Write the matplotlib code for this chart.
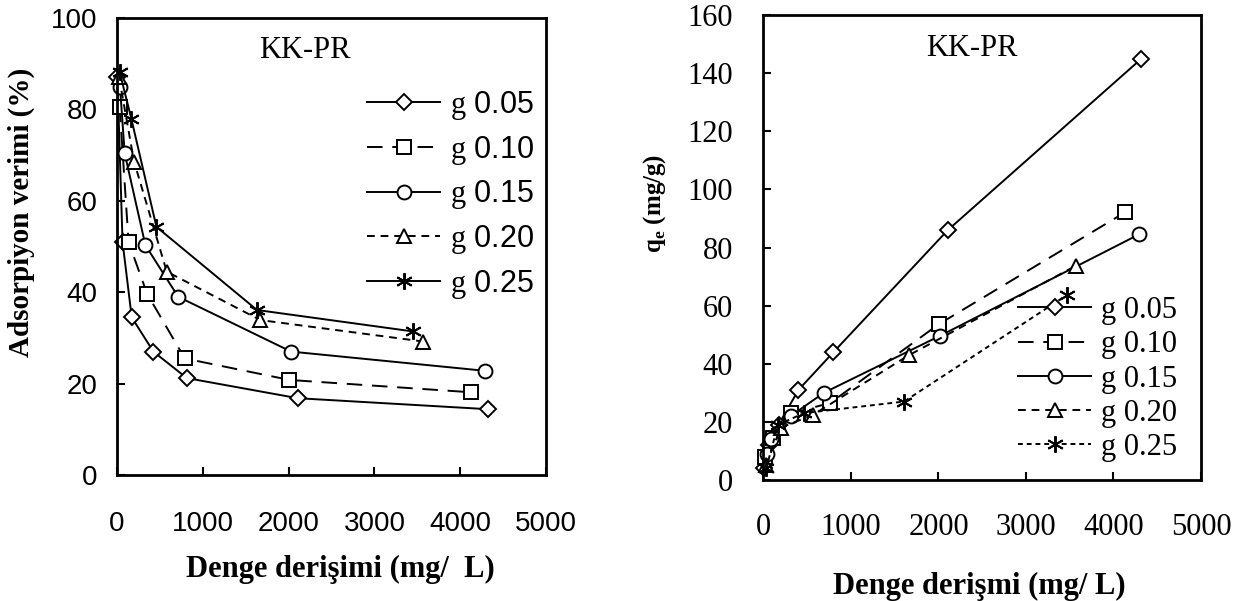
import matplotlib.pyplot as plt

plt.rcParams['mathtext.fontset'] = 'custom'
plt.rcParams['mathtext.rm'] = 'Liberation Serif'
plt.rcParams['mathtext.bf'] = 'Liberation Serif:bold'

labels = ['g 0.05', 'g 0.10', 'g 0.15', 'g 0.20', 'g 0.25']

## left panel: adsorption yield (%) vs equilibrium conc.
ce_left = [
    [5, 65, 172, 424, 814, 2107, 4319],
    [31, 135, 350, 790, 2009, 4124],
    [35, 90, 331, 713, 2029, 4287],
    [25, 199, 580, 1671, 3571],
    [31, 167, 460, 1632, 3454],
]
yield_left = [
    [87, 51, 34.5, 27, 21.2, 16.8, 14.4],
    [80.6, 51, 39.7, 25.5, 20.8, 18.1],
    [85, 70.4, 50.3, 39, 27, 22.8],
    [87, 68.6, 44.5, 33.9, 29.2],
    [88.2, 78, 54.3, 36.1, 31.4],
]

## right panel: qe (mg/g) vs equilibrium conc.
ce_right = [
    [5, 65, 172, 400, 800, 2107, 4320],
    [20, 110, 320, 762, 2003, 4137],
    [35, 90, 310, 690, 2023, 4291],
    [25, 199, 570, 1665, 3569],
    [31, 167, 460, 1607, 3465],
]
qe_right = [
    [4.3, 12, 19, 31, 44, 86, 145],
    [8, 14.5, 23, 26.5, 53.6, 92.2],
    [9, 14, 22, 30, 49.7, 84.5],
    [5, 18, 22.5, 43, 73.7],
    [4, 19, 23, 27, 63.6],
]

markers = ['D', 's', 'o', '^', (6, 2, 0)]
msizes = [8, 10, 10, 10, 12]
styles_left = ['-', (0, (8, 5)), '-', (0, (4, 3)), '-']
styles_right = ['-', (0, (8, 5)), '-', (0, (4, 3)), (0, (2.5, 2))]

fig = plt.figure(figsize=(12.43, 6.01), dpi=100)
ax1 = fig.add_axes([0.0941, 0.2097, 0.3452, 0.7603])
ax2 = fig.add_axes([0.6142, 0.2013, 0.3520, 0.7737])

for i in range(5):
    lab = r'$\mathrm{g}$' + labels[i][1:]
    ax1.plot(ce_left[i], yield_left[i], color='black', lw=1.4,
             ls=styles_left[i], marker=markers[i], ms=msizes[i],
             mfc='white', mec='black', mew=1.4, clip_on=False, label=lab)
    ax2.plot(ce_right[i], qe_right[i], color='black', lw=1.4,
             ls=styles_right[i], marker=markers[i], ms=msizes[i],
             mfc='white', mec='black', mew=1.4, clip_on=False, label=labels[i])

ax1.set_xlim(0, 5000)
ax1.set_ylim(0, 100)
ax1.set_xticks(range(0, 5001, 1000))
ax1.set_yticks(range(0, 101, 20))
ax2.set_xlim(0, 5000)
ax2.set_ylim(0, 160)
ax2.set_xticks(range(0, 5001, 1000))
ax2.set_yticks(range(0, 161, 20))

for ax in (ax1, ax2):
    for s in ax.spines.values():
        s.set_linewidth(2)
    ax.tick_params(direction='in', length=6, width=1.5, top=False, right=False)

ax1.tick_params(axis='x', pad=26, labelsize=20)
ax1.tick_params(axis='y', pad=14, labelsize=20)
for t in ax1.get_xticklabels() + ax1.get_yticklabels():
    t.set_fontfamily('Liberation Sans')
ax2.tick_params(axis='x', pad=24, labelsize=22)
ax2.tick_params(axis='y', pad=22, labelsize=22)
for t in ax2.get_xticklabels() + ax2.get_yticklabels():
    t.set_fontfamily('Liberation Serif')

ax1.text(0.438, 0.930, 'KK-PR', transform=ax1.transAxes, ha='center', va='center',
         fontsize=22, family='Liberation Serif')
ax2.text(0.477, 0.929, 'KK-PR', transform=ax2.transAxes, ha='center', va='center',
         fontsize=22, family='Liberation Serif')

ax1.legend(loc='upper left', bbox_to_anchor=(0.583, 0.845), frameon=False,
           prop={'family': 'Liberation Sans', 'size': 22}, handlelength=2.4,
           handletextpad=0.3, labelspacing=0.385, borderpad=0, borderaxespad=0)
ax2.legend(loc='upper left', bbox_to_anchor=(0.582, 0.3955), frameon=False,
           prop={'family': 'Liberation Serif', 'size': 22}, handlelength=2.4,
           handletextpad=0.3, labelspacing=0.17, borderpad=0, borderaxespad=0)

fig.text(0.2735, 0.052, 'Denge derişimi (mg/  L)', ha='center', va='center',
         fontsize=22, fontweight='bold', family='Liberation Serif')
fig.text(0.788, 0.024, 'Denge derişmi (mg/ L)', ha='center', va='center',
         fontsize=22, fontweight='bold', family='Liberation Serif')
fig.text(0.0175, 0.647, 'Adsorpiyon verimi (%)', ha='center', va='center', rotation=90,
         fontsize=21, fontweight='bold', family='Liberation Serif')
fig.text(0.527, 0.662, r'$\mathbf{q}_\mathbf{e}$ (mg/g)', ha='center', va='center', rotation=90,
         fontsize=18, fontweight='bold', family='Liberation Serif')

fig.savefig('out.png', dpi=100)
